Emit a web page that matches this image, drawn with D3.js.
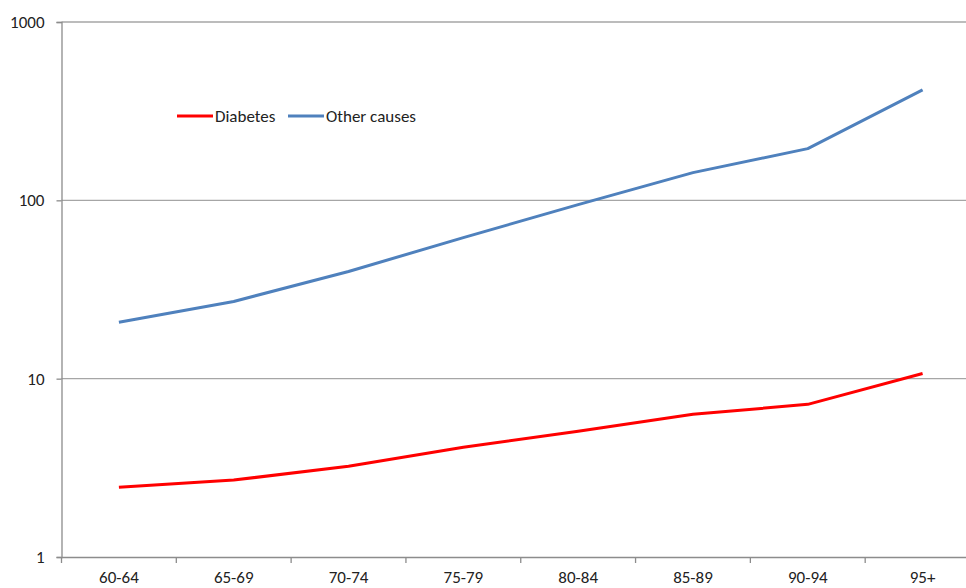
<!DOCTYPE html>
<html>
<head>
<meta charset="utf-8">
<script src="https://cdn.jsdelivr.net/npm/d3@7/dist/d3.min.js"></script>
<style>
  html, body { margin: 0; padding: 0; background: #fff; overflow: hidden; }
  svg text { font-family: Carlito, "Open Sans", "Liberation Sans", sans-serif; fill: #222; }
</style>
</head>
<body>
<svg id="chart" width="966" height="588"></svg>
<script>
const ageGroups = ["60-64", "65-69", "70-74", "75-79", "80-84", "85-89", "90-94", "95+"];
const diabetes = [2.46, 2.70, 3.23, 4.13, 5.07, 6.31, 7.18, 10.7];
const otherCauses = [20.7, 27.1, 39.9, 61.8, 94.6, 143, 195, 416];
const yTicks = [1, 10, 100, 1000];
const seriesNames = ["Diabetes", "Other causes"];
const seriesColors = ["#ff0000", "#4f81bd"];

const svg = d3.select("#chart");
const plotLeft = 61.5, plotRight = 980, plotTop = 22, plotBottom = 557;
const fontSize = 17;

const x = d3.scaleBand().domain(ageGroups).range([plotLeft, plotRight]).paddingInner(0).paddingOuter(0);
const y = d3.scaleLog().domain([1, 1000]).range([plotBottom, plotTop]);

// horizontal gridlines
svg.append("g")
  .selectAll("line")
  .data(yTicks.slice(1))
  .join("line")
  .attr("x1", plotLeft).attr("x2", 966)
  .attr("y1", d => y(d)).attr("y2", d => y(d))
  .attr("stroke", "#a6a6a6").attr("stroke-width", 1.3);

// y axis
const yAxis = svg.append("g")
  .attr("transform", `translate(${plotLeft},0)`)
  .call(d3.axisLeft(y).tickValues(yTicks).tickFormat(d3.format("d")).tickSize(5).tickPadding(12));
yAxis.select(".domain").attr("stroke", "#8c8c8c").attr("stroke-width", 1.3);
yAxis.selectAll(".tick line").attr("stroke", "#8c8c8c").attr("stroke-width", 1.3);
yAxis.selectAll("text").attr("font-size", fontSize).style("fill", "#222");

// x axis
const xAxis = svg.append("g")
  .attr("transform", `translate(0,${plotBottom})`)
  .call(d3.axisBottom(x).tickSize(0).tickPadding(14));
xAxis.select(".domain").attr("stroke", "#8c8c8c").attr("stroke-width", 1.3);
xAxis.selectAll("text").attr("font-size", fontSize).style("fill", "#222");
// category boundary ticks
svg.append("g")
  .selectAll("line")
  .data(ageGroups)
  .join("line")
  .attr("x1", d => x(d)).attr("x2", d => x(d))
  .attr("y1", plotBottom).attr("y2", plotBottom + 6)
  .attr("stroke", "#8c8c8c").attr("stroke-width", 1.3);

// series lines
const line = d3.line()
  .x((d, i) => x(ageGroups[i]) + x.bandwidth() / 2)
  .y(d => y(d));

[diabetes, otherCauses].forEach((vals, k) => {
  svg.append("path")
    .datum(vals)
    .attr("d", line)
    .attr("fill", "none")
    .attr("stroke", seriesColors[k])
    .attr("stroke-width", 3)
    .attr("stroke-linejoin", "round");
});

// legend
const legendX = [177, 288];
const legendY = 116;
seriesNames.forEach((name, k) => {
  const g = svg.append("g").attr("transform", `translate(${legendX[k]},${legendY})`);
  g.append("line").attr("x1", 0).attr("x2", 36).attr("y1", 0).attr("y2", 0)
    .attr("stroke", seriesColors[k]).attr("stroke-width", 3);
  g.append("text").attr("x", 38).attr("y", 0).attr("dy", "0.35em")
    .attr("font-size", fontSize).text(name);
});
</script>
</body>
</html>
